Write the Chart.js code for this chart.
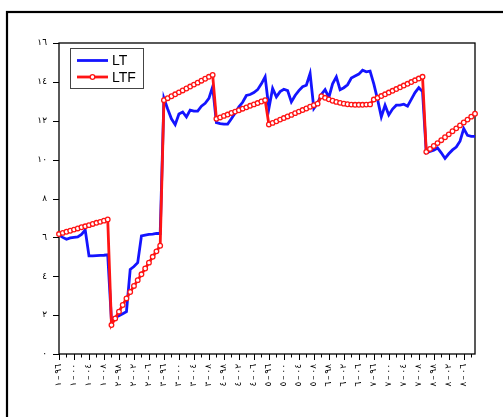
<!DOCTYPE html>
<html>
<head>
<meta charset="utf-8">
<script src="https://cdn.jsdelivr.net/npm/chart.js@4.4.0/dist/chart.umd.min.js"></script>
<style>
  html, body { margin: 0; padding: 0; background: #fff; overflow: hidden; }
  #wrap { position: relative; width: 503px; height: 417px; }
</style>
</head>
<body>
<div id="wrap"><canvas id="c" width="503" height="417"></canvas></div>
<script>
// Series names
const seriesNames = ['LT', 'LTF'];

// Observed series (LT)
const ltValues = [
  6.12, 6.0, 5.9, 5.97, 6.0, 6.02, 6.15, 6.38, 5.05, 5.05, 5.06, 5.07, 5.08, 5.1,
  1.7, 1.88, 1.97, 2.07, 2.18, 4.35, 4.5, 4.7, 6.08, 6.12, 6.15, 6.17, 6.2, 6.2,
  13.15, 12.6, 12.1, 11.8, 12.35, 12.45, 12.2, 12.55, 12.5, 12.5, 12.75, 12.9, 13.15, 13.75,
  11.9, 11.85, 11.83, 11.83, 12.1, 12.4, 12.72, 12.95, 13.3, 13.35, 13.45, 13.6, 13.9, 14.26,
  12.63, 13.66, 13.23, 13.5, 13.62, 13.55, 12.97, 13.3, 13.55, 13.75, 13.83, 14.43, 12.63, 12.9,
  13.35, 13.6, 13.2, 13.9, 14.26, 13.6, 13.7, 13.85, 14.2, 14.3, 14.4, 14.6, 14.52, 14.55,
  13.9, 13.1, 12.2, 12.8, 12.3, 12.6, 12.8, 12.8, 12.85, 12.75, 13.1, 13.45, 13.7, 13.5,
  10.35, 10.42, 10.48, 10.6, 10.35, 10.06, 10.3, 10.5, 10.65, 10.95, 11.6, 11.25, 11.2, 11.2
];

// Forecast series (LTF)
const ltfValues = [
  6.17, 6.23, 6.29, 6.34, 6.40, 6.46, 6.52, 6.57, 6.63, 6.69, 6.75, 6.80, 6.86, 6.92,
  1.49, 1.83, 2.18, 2.52, 2.86, 3.19, 3.50, 3.80, 4.10, 4.40, 4.70, 5.00, 5.28, 5.57,
  13.06, 13.16, 13.26, 13.36, 13.46, 13.56, 13.66, 13.76, 13.86, 13.96, 14.06, 14.16, 14.26, 14.36,
  12.10, 12.17, 12.25, 12.32, 12.40, 12.47, 12.54, 12.62, 12.69, 12.77, 12.84, 12.91, 12.99, 13.06,
  11.81, 11.89, 11.97, 12.06, 12.14, 12.22, 12.30, 12.39, 12.47, 12.55, 12.63, 12.72, 12.80, 12.88,
  13.26, 13.18, 13.10, 13.03, 12.97, 12.92, 12.88, 12.85, 12.83, 12.82, 12.82, 12.82, 12.83, 12.84,
  13.09, 13.18, 13.27, 13.36, 13.45, 13.54, 13.63, 13.72, 13.81, 13.90, 13.99, 14.08, 14.17, 14.26,
  10.40, 10.55, 10.70, 10.85, 11.00, 11.15, 11.30, 11.46, 11.61, 11.76, 11.91, 12.06, 12.21, 12.36
];

// Value axis labels (0..16, step 2)
const yTickLabels = ['٠', '٢', '٤', '٦', '٨', '١٠', '١٢', '١٤', '١٦'];

// Period labels, one every fourth observation: [period, sub-period]
const xTickYears = ['١', '١', '١', '١', '٢', '٢', '٢', '٣', '٣', '٣', '٣', '٤', '٤', '٤',
                    '٥', '٥', '٥', '٥', '٦', '٦', '٦', '٧', '٧', '٧', '٧', '٨', '٨', '٨'];
const xTickSubs = ['٩٦', '٠٠', '٠٤', '٠٨', '٩٨', '٠٢', '٠٦', '٩٦', '٠٠', '٠٤', '٠٨', '٩٨', '٠٢', '٠٦',
                   '٩٦', '٠٠', '٠٤', '٠٨', '٩٨', '٠٢', '٠٦', '٩٦', '٠٠', '٠٤', '٠٨', '٩٨', '٠٢', '٠٦'];
// LRM marks keep the two digit groups in reading order around the dash
const xTickLabels = xTickYears.map((y, k) => y + '\u200E\u2009\u2013\u2009\u200E' + xTickSubs[k]);

const LABEL_EVERY = 4;
const TICK_EVERY = 2;

const blue = 'rgb(20,20,255)';
const red = 'rgb(255,20,20)';

// Frames, tick marks and the boxed legend
const decor = {
  id: 'decor',
  beforeDatasetsDraw(chart) {
    const { ctx, chartArea: a, scales } = chart;
    ctx.save();
    // outer frame
    ctx.strokeStyle = '#000';
    ctx.lineWidth = 2.2;
    ctx.strokeRect(7, 12, 700, 700);
    // plot frame
    ctx.lineWidth = 1.3;
    ctx.strokeRect(a.left, a.top, a.right - a.left, a.bottom - a.top);
    // y tick marks
    ctx.lineWidth = 1;
    for (let v = 0; v <= 16; v += 2) {
      const y = Math.round(scales.y.getPixelForValue(v)) + 0.5;
      ctx.beginPath(); ctx.moveTo(a.left - 6, y); ctx.lineTo(a.left, y); ctx.stroke();
    }
    // x tick marks (long at labelled periods)
    for (let i = 0; i < ltValues.length - 1; i += TICK_EVERY) {
      const x = Math.round(scales.x.getPixelForValue(i)) + 0.5;
      const len = i % LABEL_EVERY === 0 ? 6 : 3.5;
      ctx.beginPath(); ctx.moveTo(x, a.bottom); ctx.lineTo(x, a.bottom + len); ctx.stroke();
    }
    ctx.restore();
  },
  afterDraw(chart) {
    const { ctx } = chart;
    ctx.save();
    ctx.fillStyle = '#fff';
    ctx.fillRect(70.5, 48.5, 73, 40);
    ctx.strokeStyle = '#444';
    ctx.lineWidth = 1;
    ctx.strokeRect(70.5, 48.5, 73, 40);
    const rows = [60.5, 77];
    chart.data.datasets.forEach((ds, k) => {
      const y = rows[k];
      ctx.strokeStyle = ds.borderColor;
      ctx.lineWidth = 2.8;
      ctx.beginPath(); ctx.moveTo(77, y); ctx.lineTo(108, y); ctx.stroke();
      if (ds.pointRadius > 0) {
        ctx.fillStyle = '#fff';
        ctx.lineWidth = 1.3;
        ctx.beginPath(); ctx.arc(92.5, y, 2.3, 0, Math.PI * 2); ctx.fill(); ctx.stroke();
      }
      ctx.fillStyle = '#000';
      ctx.font = '14px "Liberation Sans", Arial, sans-serif';
      ctx.textBaseline = 'alphabetic';
      ctx.fillText(ds.label, 112, y + 4.6);
    });
    ctx.restore();
  }
};

new Chart(document.getElementById('c'), {
  type: 'line',
  data: {
    labels: ltValues.map((_, i) => i),
    datasets: [
      {
        label: seriesNames[0], data: ltValues,
        borderColor: blue, borderWidth: 2.8, pointRadius: 0, tension: 0, order: 1
      },
      {
        label: seriesNames[1], data: ltfValues,
        borderColor: red, borderWidth: 2.8, tension: 0, order: 0,
        pointRadius: 2.3, pointBorderWidth: 1.3,
        pointBackgroundColor: '#fff', pointBorderColor: red
      }
    ]
  },
  options: {
    responsive: false,
    animation: false,
    devicePixelRatio: 1,
    layout: { padding: { left: 0, right: 28, top: 43, bottom: 0 } },
    plugins: { legend: { display: false }, tooltip: { enabled: false } },
    scales: {
      x: {
        type: 'category',
        offset: false,
        grid: { display: false, drawTicks: false },
        border: { display: false },
        ticks: {
          autoSkip: false, minRotation: 90, maxRotation: 90, padding: 10,
          color: '#000', font: { family: 'DejaVu Sans', size: 9 },
          callback: (v, i) => (i % LABEL_EVERY === 0 ? xTickLabels[i / LABEL_EVERY] : '')
        },
        afterFit: (s) => { s.height = 63; }
      },
      y: {
        min: 0, max: 16,
        grid: { display: false, drawTicks: false },
        border: { display: false },
        ticks: {
          stepSize: 2, padding: 12, color: '#000',
          font: { family: 'DejaVu Sans', size: 9 },
          callback: (v) => yTickLabels[v / 2]
        },
        afterFit: (s) => { s.width = 59; }
      }
    }
  },
  plugins: [decor]
});
</script>
</body>
</html>
